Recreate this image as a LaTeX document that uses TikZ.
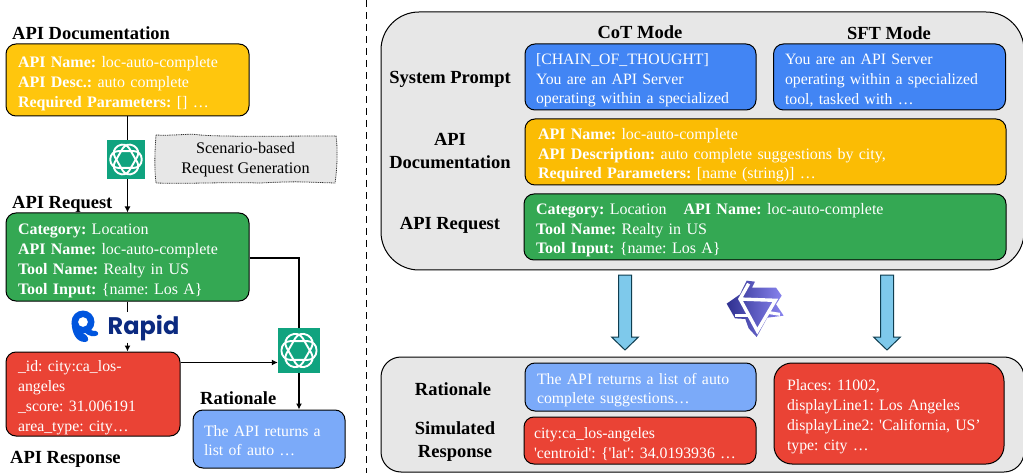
\documentclass[tikz,border=0pt]{standalone}
\usepackage{fontspec}
\setmainfont[Ligatures=TeXOff]{Liberation Serif}
\newfontfamily\rapidfont{Poppins}
\usetikzlibrary{arrows.meta,calc}
\frenchspacing
\definecolor{cyl}{HTML}{FFC60D}
\definecolor{cyr}{HTML}{FBBC04}
\definecolor{cgr}{HTML}{34A853}
\definecolor{crd}{HTML}{EA4335}
\definecolor{cbl}{HTML}{4285F4}
\definecolor{clb}{HTML}{7BAAF9}
\definecolor{cgy}{HTML}{E7E7E7}
\definecolor{cteal}{HTML}{10A37F}
\definecolor{carrow}{HTML}{7EC9EB}
\definecolor{carrowl}{HTML}{0F3D4F}
\definecolor{cq}{HTML}{0055DE}
\definecolor{cnavy}{HTML}{0B2A80}
\definecolor{cqa}{HTML}{2F3090}
\definecolor{cqb}{HTML}{8A86F0}
\newcommand{\rbt}{17.5pt}
\tikzset{
  rbox/.style={draw=black,line width=1pt,rounded corners=#1,text=white,align=left,
     font=\fontsize{15.8}{19.7}\selectfont,inner sep=0pt,anchor=center,
     execute at begin node={\rule{0pt}{\rbt}}},
  rbox/.default=10pt,
  bfsz/.style={font=\fontsize{16}{19.7}\selectfont},
  ttl/.style={font=\fontsize{18.5}{22}\selectfont\bfseries,anchor=base west,inner sep=0pt,text=black},
  lbl/.style={font=\fontsize{18.5}{22.5}\selectfont\bfseries,anchor=center,align=center,inner sep=0pt,text=black},
  conn/.style={draw=black,line width=1.2pt},
  tip/.style={-{Latex[length=6pt,width=6pt]}},
  fatarrow/.style={draw=carrowl,line width=1pt,fill=carrow},
  panel/.style={draw=black,line width=1pt,fill=cgy,anchor=center,inner sep=0pt},
  gptbox/.style={fill=cteal,draw=none,inner sep=0pt,anchor=center},
  knot/.style={draw=white,line width=#1,fill=none},
}
\newcommand{\gptknot}[2]{% node name, scale
  \begin{scope}[shift={(#1.center)},x=#2pt,y=#2pt]
    \foreach \a in {0,60,120}{
      \draw[knot=1.9pt,rotate=\a,rounded corners=7*#2 pt] (-14,-7.5) rectangle (14,7.5);
    }
  \end{scope}
}
\begin{document}
\begin{tikzpicture}[x=1pt,y=-1pt]
\useasboundingbox (0,0) rectangle (1023,473);
\fill[white] (0,0) rectangle (1023,473);

% divider
\coordinate (dt) at (366,0); \coordinate (db) at (366,473);
\draw[black,line width=1pt,dash pattern=on 7pt off 5pt] (dt) -- (db);

% ---------- left ----------
\node[ttl] (tdoc) at (12,40) {API Documentation};
\node[rbox,bfsz,/utils/exec={\def\rbt{18.5pt}},fill=cyl,minimum width=243pt,minimum height=72pt,text width=219pt] (ldoc) at (127.5,80)
 {\textbf{API Name:} loc-auto-complete\\\textbf{API Desc.:} auto complete\\\textbf{Required Parameters:} [] …};
\node[ttl] (treq) at (12,209) {API Request};
\node[rbox,bfsz,/utils/exec={\def\rbt{18.5pt}},fill=cgr,minimum width=243pt,minimum height=88pt,text width=219pt] (lreq) at (127.5,257)
 {\textbf{Category:} Location\\\textbf{API Name:} loc-auto-complete\\\textbf{Tool Name:} Realty in US\\\textbf{Tool Input:} \{name: Los A\}};
\node[rbox,/utils/exec={\def\rbt{18.5pt}},fill=crd,minimum width=174pt,minimum height=84pt,text width=150pt] (lres) at (93,394)
 {\_id: city:ca\_los-\\angeles\\\_score: 31.006191\\area\_type: city…};
\node[ttl] (tres) at (10,463) {API Response};
\node[ttl] (trat) at (200,404) {Rationale};
\node[rbox,/utils/exec={\def\rbt{14pt}},fill=clb,minimum width=152pt,minimum height=58pt,text width=130pt] (lrat) at (269,439)
 {The API returns a\\list of auto …};

% note
\path[fill=cgy,draw=black!80,line width=.8pt,dash pattern=on 1pt off .8pt]
  (156,135) .. controls (175,136) and (190,133) .. (200,135) .. controls (225,137) and (280,136) .. (336,136)
  .. controls (338,150) and (337,170) .. (335,183) .. controls (300,182) and (300,181) .. (260,183)
  .. controls (220,182) and (190,184) .. (156,183) .. controls (154,165) and (155,150) .. (156,135) -- cycle;
\node[font=\fontsize{16.2}{19.7}\selectfont,align=center,inner sep=0pt] (note) at (245.5,159.5)
 {Scenario-based\\Request Generation};

% gpt icons
\node[gptbox,minimum width=38pt,minimum height=39pt] (g1) at (126,159.5) {};
\node[gptbox,minimum width=42pt,minimum height=45pt] (g2) at (299,350.5) {};

% Rapid
\node[font=\rapidfont\bfseries\fontsize{24}{24}\selectfont,text=cnavy,anchor=base west,inner sep=0pt] (rapid) at (107.5,334) {Rapid};
\coordinate (rapidtop) at ($(lreq.south)+(0,10)$);
\coordinate (rapidbot) at ($(lres.north -| lreq.south)+(0,-9)$);
\fill[cq,even odd rule] (83,322) circle (11.5pt) (83,322) circle (5pt);
\fill[cq] (71.6,323) .. controls (72,333) and (76,342) .. (85,342) .. controls (89,342) and (89,338) .. (86,335)
   .. controls (82,333) and (79,330) .. (77,326) -- cycle;
\fill[cq] (82,329) -- (87,326) .. controls (89,330) and (92,331) .. (96,331) .. controls (99,332) and (99,336) .. (95,336)
   .. controls (90,337) and (85,334) .. (82,329) -- cycle;

% connectors
\draw[conn] (ldoc.south) -- (ldoc.south |- g1.north);
\draw[conn,tip] (lreq.north |- g1.south) -- (lreq.north);
\draw[conn] (lreq.south) -- (rapidtop);
\draw[conn,tip] (rapidbot) -- (lres.north -| lreq.south);
\draw[conn] (lreq.east |- 0,258) -| (g2.north);
\draw[conn,tip] (lres.east |- 0,362.5) -- (g2.west |- 0,362.5);
\draw[conn,tip] (g2.south) -- (g2.south |- lrat.north);

\gptknot{g1}{1.12}
\gptknot{g2}{1.25}

% ---------- right top ----------
\node[panel,rounded corners=38pt,minimum width=643pt,minimum height=258pt] (top) at (702.5,141) {};
\node[lbl] (cot) at (640,32) {CoT Mode};
\node[lbl] (sft) at (889,33) {SFT Mode};
\node[lbl] (sp) at (450,79) {System Prompt};
\node[lbl] (ad) at (450,151) {API\\Documentation};
\node[lbl] (ar) at (450,225) {API Request};
\node[rbox,fill=cbl,minimum width=231pt,minimum height=66pt,text width=209pt] (cotb) at (640.5,77)
 {[CHAIN\_OF\_THOUGHT]\\You are an API Server\\operating within a specialized};
\node[rbox,fill=cbl,minimum width=232pt,minimum height=66pt,text width=209pt] (sftb) at (889.5,77)
 {You are an API Server\\operating within a specialized\\tool, tasked with …};
\node[rbox,bfsz,fill=cyr,minimum width=481pt,minimum height=66pt,text width=455pt] (rdoc) at (765.5,152)
 {\textbf{API Name:} loc-auto-complete\\\textbf{API Description:} auto complete suggestions by city,\\\textbf{Required Parameters:} [name (string)] …};
\node[rbox,bfsz,fill=cgr,minimum width=482pt,minimum height=66pt,text width=458pt] (rreq) at (765,227)
 {\textbf{Category:} Location\hspace{17pt}\textbf{API Name:} loc-auto-complete\\\textbf{Tool Name:} Realty in US\\\textbf{Tool Input:} \{name: Los A\}};

% ---------- fat arrows ----------
\node[panel,rounded corners=20pt,minimum width=643pt,minimum height=115pt] (bot) at (702.5,414.5) {};
\foreach \cx/\nm in {625/a1,887/a2}{
  \coordinate (\nm) at (\cx,275);
  \draw[fatarrow,line join=miter] ($(\nm)+(-6.5,0)$) -- ($(\nm)+(6.5,0)$) -- ($(\nm)+(6.5,62)$) -- ($(\nm)+(13.5,62)$)
     -- ($(\nm)+(0,75)$) -- ($(\nm)+(-13.5,62)$) -- ($(\nm)+(-6.5,62)$) -- cycle;
}

% Qwen logo
\begin{scope}[shift={(690,275)},x=.3333pt,y=-.3333pt]
  \path[left color=cqa,right color=cqb]
    (170,17) -- (195,20) -- (186,38) -- (258,38) -- (275,62) -- (258,88) -- (281,122) -- (232,128)
    -- (200,186) -- (176,160) -- (166,132) -- (135,130) -- (110,86) -- (150,58) -- cycle;
  \draw[white,line width=3.4pt,line join=miter]
    (176,26) -- (150,72) -- (202,168) -- (256,76) -- (146,72);
  \draw[white,line width=3pt] (136,122) -- (176,122);
  \draw[white,line width=3pt] (232,112) -- (270,118);
\end{scope}

% ---------- right bottom ----------
\node[lbl] (rt) at (453,389) {Rationale};
\node[lbl] (sr) at (455,441.5) {Simulated\\Response};
\node[rbox,fill=clb,minimum width=231pt,minimum height=48pt,text width=207pt] (rrat) at (640.5,387)
 {The API returns a list of auto\\complete suggestions…};
\node[rbox,fill=crd,minimum width=232pt,minimum height=47pt,text width=212pt] (rsim) at (640,440.5)
 {city:ca\_los-angeles\\'centroid': \{'lat': 34.0193936 …};
\node[rbox=18pt,fill=crd,minimum width=230pt,minimum height=101pt,text width=204pt] (rres) at (889,413.5)
 {Places: 11002,\\displayLine1: Los Angeles\\displayLine2: 'California, US’\\type: city …};
\end{tikzpicture}
\end{document}
